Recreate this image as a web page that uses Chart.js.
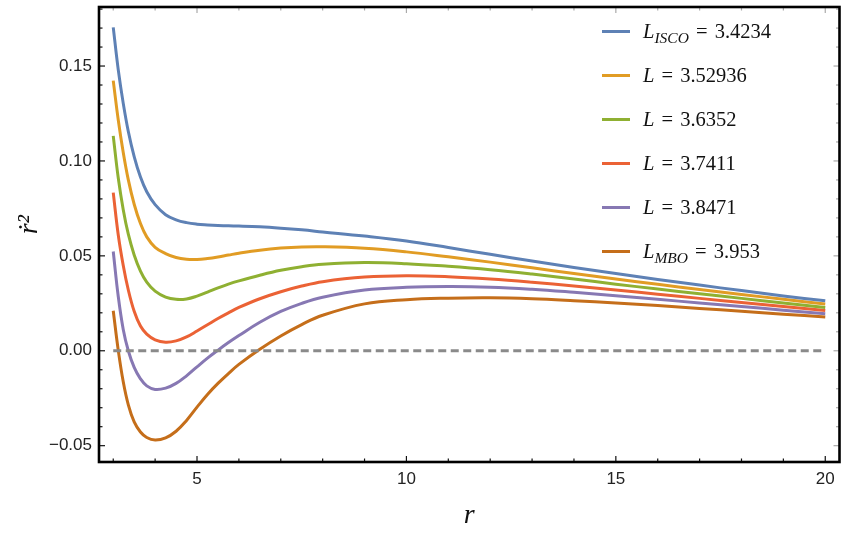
<!DOCTYPE html>
<html lang="en">
  <head>
    <meta charset="UTF-8" />
    <title>r dot squared</title>
    <script src="https://cdn.jsdelivr.net/npm/chart.js"></script>
    <style>
      body { margin: 0; background: #fff; }
      .wrap { position: relative; width: 845px; height: 538px; }
      /* legend drawn as html so the subscripts work */
      #legend {
        position: absolute; left: 602px; top: 9px;
        font-family: "Liberation Serif", "DejaVu Serif", serif;
        font-size: 20.5px; color: #111;
      }
      .row { display: flex; align-items: center; height: 44px; white-space: nowrap; }
      .swatch { width: 28px; height: 3px; margin-right: 13px; }
      .row sub { font-size: 15.5px; font-style: italic; vertical-align: -5px; line-height: 0; }
      .eq { margin: 0 2px; }
    </style>
  </head>
  <body>
    <div class="wrap">
      <canvas id="chart" width="845" height="538"></canvas>
      <div id="legend"></div>
    </div>
    <script>
      const rValues = [3, 3.12, 3.24, 3.36, 3.5, 3.65, 3.8, 4, 4.25, 4.5, 4.75, 5, 5.25, 5.5, 5.75, 6, 6.5, 7, 7.5, 8, 9, 10, 11, 12, 13, 14, 15, 16, 17, 18, 19, 20];

      const lIsco = [0.1704, 0.1480, 0.1302, 0.1155, 0.1023, 0.0915, 0.0838, 0.0770, 0.0717, 0.0690, 0.0675, 0.0667, 0.0663, 0.0660, 0.0658, 0.0657, 0.0653, 0.0646, 0.0637, 0.0626, 0.0604, 0.0578, 0.0544, 0.0508, 0.0473, 0.0439, 0.0407, 0.0376, 0.0346, 0.0317, 0.0289, 0.0263];
      const l352 = [0.1423, 0.1216, 0.1043, 0.0900, 0.0772, 0.0670, 0.0600, 0.0545, 0.0512, 0.0491, 0.0482, 0.0481, 0.0486, 0.0494, 0.0504, 0.0514, 0.0530, 0.0541, 0.0547, 0.0548, 0.0540, 0.0521, 0.0495, 0.0467, 0.0437, 0.0407, 0.0378, 0.0350, 0.0323, 0.0297, 0.0271, 0.0246];
      const l363 = [0.1132, 0.0910, 0.0742, 0.0614, 0.0505, 0.0420, 0.0362, 0.0314, 0.0283, 0.0271, 0.0273, 0.0288, 0.0309, 0.0331, 0.0351, 0.0368, 0.0398, 0.0424, 0.0443, 0.0456, 0.0465, 0.0459, 0.0445, 0.0427, 0.0404, 0.0378, 0.0351, 0.0325, 0.0300, 0.0276, 0.0252, 0.0228];
      const l374 = [0.0833, 0.0610, 0.0448, 0.0320, 0.0208, 0.0130, 0.0088, 0.0058, 0.0045, 0.0052, 0.0073, 0.0104, 0.0137, 0.0170, 0.0200, 0.0228, 0.0274, 0.0311, 0.0341, 0.0364, 0.0388, 0.0395, 0.0390, 0.0378, 0.0361, 0.0341, 0.0320, 0.0298, 0.0276, 0.0254, 0.0233, 0.0212];
      const l385 = [0.0523, 0.0286, 0.0111, 0.0000, -0.0088, -0.0148, -0.0185, -0.0204, -0.0197, -0.0172, -0.0132, -0.0085, -0.0039, 0.0003, 0.0043, 0.0080, 0.0150, 0.0207, 0.0250, 0.0282, 0.0320, 0.0334, 0.0338, 0.0335, 0.0324, 0.0308, 0.0290, 0.0271, 0.0252, 0.0233, 0.0214, 0.0195];
      const lMbo = [0.0211, 0.0002, -0.0165, -0.0285, -0.0375, -0.0428, -0.0457, -0.0470, -0.0459, -0.0424, -0.0367, -0.0297, -0.0230, -0.0172, -0.0120, -0.0072, 0.0008, 0.0078, 0.0138, 0.0187, 0.0247, 0.0269, 0.0277, 0.0279, 0.0274, 0.0264, 0.0252, 0.0238, 0.0223, 0.0208, 0.0193, 0.0178];

      const seriesList = [lIsco, l352, l363, l374, l385, lMbo];
      const legendSubs = ["ISCO", "", "", "", "", "MBO"];
      const legendValues = ["3.4234", "3.52936", "3.6352", "3.7411", "3.8471", "3.953"];
      const colors = ["#5e81b5", "#e19c24", "#8fb032", "#eb6235", "#8778b3", "#c56e1a"];

      const zeroLineX = [3, 20];
      const xTicks = [5, 10, 15, 20];
      const yTicks = [-0.05, 0, 0.05, 0.1, 0.15];

      const datasets = seriesList.map((s, i) => ({
        label: "L = " + legendValues[i],
        data: rValues.map((r, j) => ({ x: r, y: s[j] })),
        borderColor: colors[i],
        borderWidth: 3,
        pointRadius: 0,
        tension: 0.4,
        fill: false,
      }));
      // dashed zero line goes under the curves
      datasets.unshift({
        label: "zero",
        data: zeroLineX.map((x) => ({ x: x, y: 0 })),
        borderColor: "#8a8a8a",
        borderWidth: 3,
        borderDash: [8, 4.5],
        pointRadius: 0,
      });

      const isMajorY = (v) => yTicks.some((t) => Math.abs(t - v) < 1e-6);

      // mathematica style frame with inward ticks
      const framePlugin = {
        id: "frame",
        afterDatasetsDraw(chart) {
          const { ctx, chartArea: a, scales } = chart;
          const seg = (x1, y1, x2, y2) => {
            ctx.beginPath();
            ctx.moveTo(x1, y1);
            ctx.lineTo(x2, y2);
            ctx.stroke();
          };
          ctx.save();
          ctx.lineWidth = 1.2;
          scales.x.ticks.forEach((t) => {
            const px = scales.x.getPixelForValue(t.value);
            const len = xTicks.includes(t.value) ? 6 : 3.5;
            ctx.strokeStyle = "#111";
            seg(px, a.bottom, px, a.bottom - len);
            ctx.strokeStyle = "#aaa";
            seg(px, a.top, px, a.top + len);
          });
          scales.y.ticks.forEach((t) => {
            const py = scales.y.getPixelForValue(t.value);
            const len = isMajorY(t.value) ? 6 : 3.5;
            ctx.strokeStyle = "#111";
            seg(a.left, py, a.left + len, py);
            ctx.strokeStyle = "#aaa";
            seg(a.right, py, a.right - len, py);
          });
          ctx.lineWidth = 2.6;
          ctx.strokeStyle = "#000";
          ctx.strokeRect(a.left, a.top, a.right - a.left, a.bottom - a.top);
          ctx.restore();
        },
      };

      const tickFont = { family: "'Liberation Sans', Arial, sans-serif", size: 17 };

      new Chart(document.getElementById("chart"), {
        type: "line",
        data: { datasets: datasets },
        options: {
          responsive: false,
          animation: false,
          devicePixelRatio: 1,
          events: [],
          layout: { padding: { left: 0, right: 5.5, top: 7, bottom: 0 } },
          plugins: { legend: { display: false }, tooltip: { enabled: false } },
          scales: {
            x: {
              type: "linear",
              min: 2.66,
              max: 20.34,
              grid: { display: false, drawTicks: false },
              border: { display: false },
              ticks: {
                stepSize: 1,
                includeBounds: false,
                autoSkip: false,
                maxRotation: 0,
                padding: 7,
                color: "#222",
                font: tickFont,
                callback: (v) => (xTicks.includes(v) ? String(v) : ""),
              },
              title: {
                display: true,
                text: "r",
                color: "#111",
                font: { family: "'Liberation Serif', 'DejaVu Serif', serif", size: 28, style: "italic" },
                padding: { top: 0, bottom: 6 },
              },
              afterFit: (scale) => {
                scale.height = 76;
                scale.paddingLeft = 0;
                scale.paddingRight = 0;
              },
            },
            y: {
              min: -0.0586,
              max: 0.1811,
              grid: { display: false, drawTicks: false },
              border: { display: false },
              ticks: {
                stepSize: 0.01,
                includeBounds: false,
                autoSkip: false,
                padding: 7,
                color: "#222",
                font: tickFont,
                callback: (v) => {
                  if (!isMajorY(v)) return "";
                  const k = Math.round(v * 100) / 100;
                  return (k < 0 ? "\u2212" : "") + Math.abs(k).toFixed(2);
                },
              },
              title: {
                display: true,
                // leading spaces nudge the glyphs up a little
                text: "\u2002\u2009\u1e59\u00b2",
                color: "#111",
                font: { family: "'Liberation Serif', 'DejaVu Serif', serif", size: 28, style: "italic" },
                padding: { top: 13, bottom: 0 },
              },
              afterFit: (scale) => {
                scale.width = 99;
                scale.paddingTop = 0;
                scale.paddingBottom = 0;
              },
            },
          },
        },
        plugins: [framePlugin],
      });

      // legend rows built from the same arrays
      const legend = document.getElementById("legend");
      legendValues.forEach((val, i) => {
        const row = document.createElement("div");
        row.className = "row";
        const sub = legendSubs[i] ? `<sub>${legendSubs[i]}</sub>` : "";
        row.innerHTML = `<span class="swatch" style="background:${colors[i]}"></span><span><i>L</i>${sub} <span class="eq">=</span> ${val}</span>`;
        legend.appendChild(row);
      });
    </script>
  </body>
</html>
